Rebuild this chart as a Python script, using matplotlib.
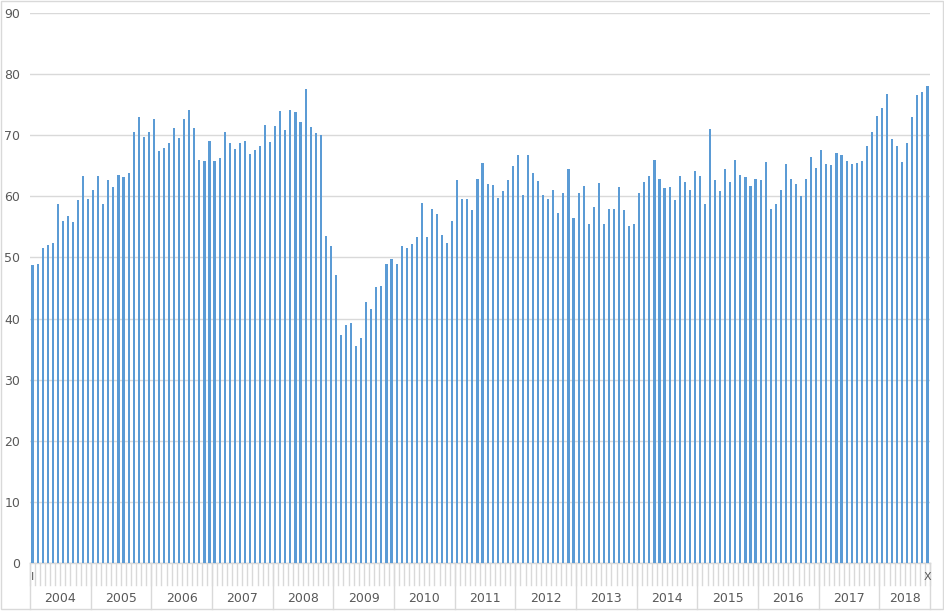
import matplotlib
matplotlib.use("Agg")
import matplotlib.pyplot as plt
import matplotlib.transforms as mtransforms
from matplotlib.patches import Rectangle

years = [str(y) for y in range(2004, 2019)]
months_per_year = [12] * 14 + [10]
first_month_label = "I"
last_month_label = "X"

values = [
    # 2004
    48.7, 48.9, 51.5, 52.1, 52.4, 58.8, 56.0, 56.8, 55.8, 59.4, 63.3, 59.5,
    # 2005
    61.0, 63.3, 58.8, 62.6, 61.5, 63.5, 63.1, 63.8, 70.5, 73.0, 69.7, 70.5,
    # 2006
    72.7, 67.4, 67.9, 68.7, 71.2, 69.5, 72.6, 74.1, 71.2, 65.9, 65.8, 69.1,
    # 2007
    65.7, 66.2, 70.6, 68.7, 67.7, 68.7, 69.0, 67.0, 67.6, 68.2, 71.7, 68.9,
    # 2008
    71.5, 73.9, 70.8, 74.2, 73.8, 72.1, 77.5, 71.3, 70.3, 70.0, 53.5, 51.8,
    # 2009
    47.1, 37.25, 38.9, 39.3, 35.5, 36.8, 42.7, 41.6, 45.2, 45.3, 48.9, 49.7,
    # 2010
    48.9, 51.9, 51.5, 52.2, 53.4, 58.9, 53.3, 58.0, 57.1, 53.6, 52.3, 55.9,
    # 2011
    62.6, 59.5, 59.6, 57.7, 62.9, 65.5, 62.0, 61.8, 59.7, 60.8, 62.6, 65.0,
    # 2012
    66.7, 60.2, 66.8, 63.9, 62.5, 60.3, 59.6, 61.1, 57.2, 60.5, 64.5, 56.5,
    # 2013
    60.6, 61.7, 55.4, 58.3, 62.1, 55.4, 57.9, 57.9, 61.5, 57.7, 55.1, 55.4,
    # 2014
    60.6, 62.3, 63.3, 66.0, 62.9, 61.3, 61.5, 59.4, 63.3, 62.3, 61.1, 64.2,
    # 2015
    63.3, 58.7, 71.0, 62.7, 60.9, 64.5, 62.3, 65.9, 63.5, 63.1, 61.7, 62.9,
    # 2016
    62.7, 65.6, 57.9, 58.7, 61.1, 65.3, 62.9, 62.0, 60.1, 62.8, 66.4, 64.6,
    # 2017
    67.6, 65.3, 65.1, 67.1, 66.7, 65.8, 65.3, 65.4, 65.8, 68.3, 70.5, 73.2,
    # 2018
    74.4, 76.7, 69.4, 68.3, 65.6, 68.8, 73.0, 76.6, 77.1, 78.1,
]

W, H = 945, 613
fig = plt.figure(figsize=(W / 100, H / 100), dpi=100)
fig.patch.set_facecolor("white")

left, right, top, bottom = 30, 930, 13, 563
ax = fig.add_axes([left / W, 1 - bottom / H, (right - left) / W, (bottom - top) / H])

n = len(values)
x = list(range(n))
ax.bar(x, values, width=0.42, color="#5B9BD5", zorder=3)

ax.set_xlim(-0.5, n - 0.5)
ax.set_ylim(0, 90)
ax.set_yticks(range(0, 91, 10))
ax.yaxis.grid(True, color="#D9D9D9", linewidth=1.0, zorder=0)
ax.set_xticks([])
for s in ["top", "right", "left"]:
    ax.spines[s].set_visible(False)
ax.spines["bottom"].set_color("#D9D9D9")
ax.spines["bottom"].set_linewidth(1.0)
ax.tick_params(axis="y", length=0, pad=7, labelsize=9, labelcolor="#595959")

trans = mtransforms.blended_transform_factory(ax.transData, ax.transAxes)
grey = "#D9D9D9"
ph = bottom - top
# month separators
for i in range(n + 1):
    ax.plot([i - 0.5, i - 0.5], [0, -22 / ph], color=grey, lw=1.0,
            transform=trans, clip_on=False)
# year separators and labels
start = 0
for yname, m in zip(years, months_per_year):
    ax.plot([start - 0.5, start - 0.5], [0, -46 / ph], color=grey, lw=1.0,
            transform=trans, clip_on=False)
    ax.text(start - 0.5 + m / 2, -35 / ph, yname, transform=trans,
            ha="center", va="center", fontsize=9, color="#595959")
    start += m
ax.plot([n - 0.5, n - 0.5], [0, -46 / ph], color=grey, lw=1.0,
        transform=trans, clip_on=False)

ax.text(0, -14 / ph, first_month_label, transform=trans, ha="center",
        va="center", fontsize=8, color="#595959")
ax.text(n - 1, -14 / ph, last_month_label, transform=trans, ha="center",
        va="center", fontsize=8, color="#595959")

# chart border
fig.patches.append(Rectangle((0.5 / W, 1 - 609 / H), 943 / W, 608.5 / H,
                             transform=fig.transFigure, fill=False,
                             edgecolor=grey, linewidth=1.0))

fig.savefig("out.png", dpi=100)
